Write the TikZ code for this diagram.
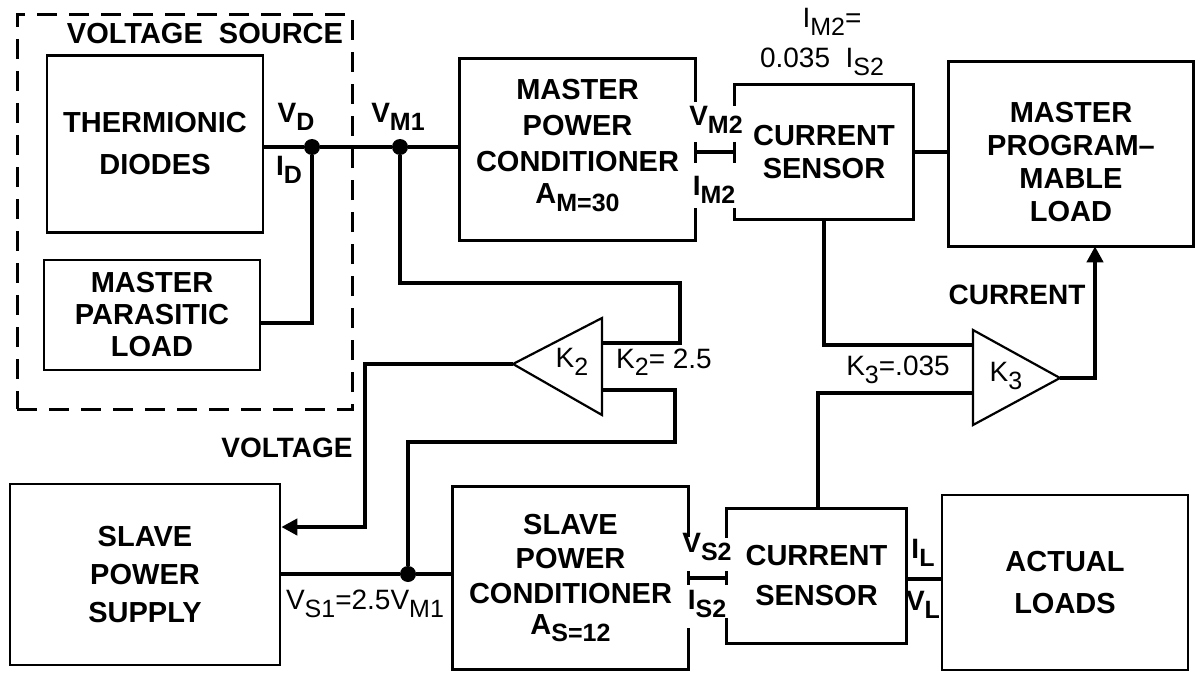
\documentclass[tikz,border=0pt]{standalone}
\usepackage{fontspec}
\setmainfont{Liberation Sans}
\usetikzlibrary{calc,arrows.meta}
\newcommand\lsub[1]{\raisebox{-0.5ex}{\fontsize{12.5}{12.5}\selectfont #1}}
\begin{document}
\begin{tikzpicture}[x=0.5pt,y=-0.5pt,
  boxl/.style={line width=1.3pt},
  blk/.style={boxl,inner sep=0pt,align=center},
  wire/.style={line width=2pt},
  tri/.style={line width=1.1pt,line join=miter},
  lab/.style={inner sep=0pt,font=\bfseries\fontsize{14}{16}\selectfont},
  nlab/.style={inner sep=0pt,font=\fontsize{14}{16}\selectfont},
  arr/.style={-{Triangle[length=8pt,width=8pt]}},
  dot/.style={circle,fill,inner sep=0pt,minimum size=8pt}]
\fill[white] (0,0) rectangle (1199,674);
\useasboundingbox (0,0) rectangle (1199,674);

% voltage source enclosure
\node[draw,line width=1.5pt,dash pattern=on 10pt off 6pt,minimum width=167.5pt,minimum height=197pt,inner sep=0pt] (vsrc) at (184.5,212) {};
\node[lab,font=\bfseries\fontsize{14.5}{16}\selectfont] (vslab) at (205,34) {VOLTAGE\ \ SOURCE};

% blocks
\node[blk,draw,minimum width=108pt,minimum height=88.5pt,font=\bfseries\fontsize{14.5}{21}\selectfont] (td) at (155,144) {THERMIONIC\\DIODES};
\node[blk,draw,minimum width=108pt,minimum height=55pt,font=\bfseries\fontsize{14.5}{16}\selectfont] (mpl) at (152,315) {MASTER\\PARASITIC\\LOAD};
\node[blk,minimum width=116.5pt,minimum height=89.5pt,font=\bfseries\fontsize{14.5}{18}\selectfont] (mpc) at (577.5,149.5) {MASTER\\POWER\\CONDITIONER\\[-2pt]A\lsub{M=30}\\[-10pt]\mbox{}};
\node[blk,minimum width=88pt,minimum height=66pt,font=\bfseries\fontsize{14.5}{16.5}\selectfont] (cs1) at (824,152) {CURRENT\\SENSOR};
\node[blk,minimum width=121pt,minimum height=91pt,font=\bfseries\fontsize{14.5}{16.5}\selectfont] (mprog) at (1071,162) {MASTER\\PROGRAM--\\MABLE\\LOAD};
\node[blk,draw,minimum width=135pt,minimum height=90.5pt,font=\bfseries\fontsize{14.5}{19}\selectfont] (sps) at (145,574.5) {SLAVE\\POWER\\SUPPLY};
\node[blk,minimum width=116.5pt,minimum height=90pt,font=\bfseries\fontsize{14.5}{17.3}\selectfont] (spc) at (570.5,578) {SLAVE\\POWER\\CONDITIONER\\[-2pt]A\lsub{S=12}};
\node[blk,minimum width=88.5pt,minimum height=66pt,font=\bfseries\fontsize{14.5}{20}\selectfont] (cs2) at (816.5,576) {CURRENT\\SENSOR};
\node[blk,draw,minimum width=123pt,minimum height=87.5pt,font=\bfseries\fontsize{14.5}{21}\selectfont] (al) at (1065,582.5) {ACTUAL\\LOADS};

% borders drawn separately (broken or offset)
\draw[boxl] ($(mprog.north west)+(0,-8)$) rectangle ($(mprog.south east)+(0,-8)$);
\draw[boxl] ($(mpc.north east)+(0,43)$) -- (mpc.north east) -- (mpc.north west) -- (mpc.south west) -- (mpc.south east) -- ($(mpc.south east)+(0,-32)$);
\draw[boxl] ($(cs1.north west)+(0,21)$) -- (cs1.north west) -- (cs1.north east) -- (cs1.south east) -- (cs1.south west) -- ($(cs1.south west)+(0,-11)$);
\draw[boxl] ($(spc.north east)+(0,50)$) -- (spc.north east) -- (spc.north west) -- (spc.south west) -- (spc.south east) -- ($(spc.south east)+(0,-41)$);
\draw[boxl] ($(cs2.north west)+(0,29)$) -- (cs2.north west) -- (cs2.north east) -- (cs2.south east) -- (cs2.south west) -- ($(cs2.south west)+(0,-25)$);

% amplifiers
\coordinate (k2t) at (513,364); \coordinate (k2u) at (602,318); \coordinate (k2d) at (602,415);
\draw[tri] (k2t) -- (k2u) -- (k2d) -- cycle;
\node[nlab] (k2) at (572,362) {K\lsub{2}};
\coordinate (k2a) at (602,343); \coordinate (k2b) at (602,390);
\coordinate (k3t) at (1060,378); \coordinate (k3u) at (973,330); \coordinate (k3d) at (973,425);
\draw[tri] (k3t) -- (k3u) -- (k3d) -- cycle;
\node[nlab] (k3) at (1006,376) {K\lsub{3}};
\coordinate (k3a) at (973,345); \coordinate (k3b) at (973,393);

% junctions
\node[dot] (dD) at (312,147) {};
\node[dot] (dM) at (400,147) {};
\node[dot] (dS) at (408,574) {};

% wires
\draw[wire] (td.east |- dD) -- (dD) -- (dM) -- (mpc.west |- dM);
\draw[wire] (dD) |- (mpl.east |- 0,323);
\draw[wire] (dM) -- (400,283) -- (680,283) -- (680,343) -- (k2a);
\draw[wire] (k2b) -- (675,390) -- (675,442) -- (408,442) -- (dS);
\draw[wire,arr] (k2t) -- (365,364) -- (365,527) -- (sps.east |- 0,527);
\draw[wire] (sps.east |- dS) -- (dS) -- (spc.west |- dS);
\draw[wire] (mpc.east |- 0,152) -- (cs1.west |- 0,152);
\draw[boxl] ($(mpc.east)+(0,-7)$) -- ($(mpc.east)+(0,13)$);
\draw[boxl] ($(cs1.west)+(0,-10)$) -- ($(cs1.west)+(0,11)$);
\draw[wire] (spc.east) -- (spc.east -| cs2.west);
\draw[boxl] ($(spc.east)+(0,-7)$) -- ($(spc.east)+(0,7)$);
\draw[boxl] ($(cs2.west |- spc.east)+(0,-7)$) -- ($(cs2.west |- spc.east)+(0,7)$);
\draw[wire] (cs1.east) -- (cs1.east -| mprog.west);
\draw[wire] (cs2.east |- 0,579) -- (al.west |- 0,579);
\draw[wire] (cs1.south) |- (k3a);
\draw[wire] (cs2.north -| 818,0) |- (k3b);
\draw[wire,arr] (k3t) -| ($(mprog.south)+(24,-8)$);

% labels
\node[lab] (lvd) at (296,117) {V\lsub{D}};
\node[lab] (lid) at (289,170) {I\lsub{D}};
\node[lab] (lvm1) at (398,117) {V\lsub{M1}};
\node[lab] (lvm2) at (716,120) {V\lsub{M2}};
\node[lab] (lim2) at (714,190) {I\lsub{M2}};
\node[nlab,align=center] (lim2top) at (822,42) {\hspace*{10pt}I\lsub{M2}=\\[4pt]0.035\ \ I\lsub{S2}};
\node[nlab] (lk2) at (664,362) {K\lsub{2}= 2.5};
\node[lab] (lvolt) at (287,448) {VOLTAGE};
\node[lab] (lcur) at (1017,295) {CURRENT};
\node[nlab] (lk3) at (898,370) {K\lsub{3}=.035};
\node[nlab] (lvs1) at (365,604) {V\lsub{S1}=2.5V\lsub{M1}};
\node[lab] (lvs2) at (707,547) {V\lsub{S2}};
\node[lab] (lis2) at (707,604) {I\lsub{S2}};
\node[lab] (lil) at (923,553) {I\lsub{L}};
\node[lab] (lvl) at (923,605) {V\lsub{L}};
\end{tikzpicture}
\end{document}
